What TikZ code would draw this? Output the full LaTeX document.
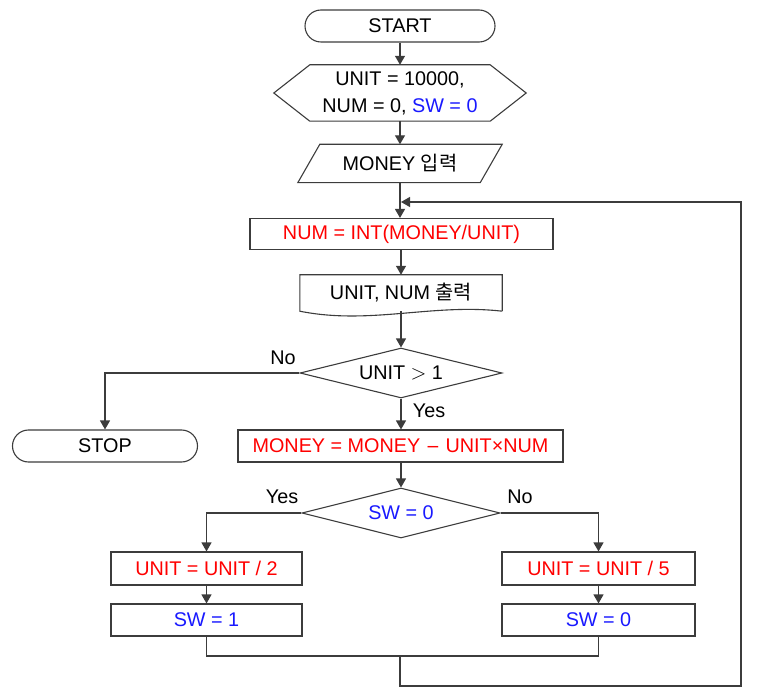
\documentclass[tikz,border=0pt]{standalone}
\usepackage{fontspec}
\setmainfont{Liberation Sans}
\newfontfamily\kr{Noto Sans CJK KR}
\usetikzlibrary{arrows.meta,shapes.geometric,shapes.misc,calc}
\definecolor{lred}{RGB}{255,0,0}
\definecolor{lblue}{RGB}{25,25,255}
\definecolor{edge}{RGB}{60,60,60}
\begin{document}
\begin{tikzpicture}[x=1pt,y=-1pt,
  every node/.style={font=\fontsize{19.8}{27}\selectfont, inner sep=0pt},
  line/.style={draw=edge, line width=1.2pt},
  arr/.style={line, -{Triangle[length=9pt,width=10pt]}},
  outl/.style={draw=edge, line width=1.1pt},
  box/.style={outl, rectangle, minimum height=32pt},
  term/.style={outl, rounded rectangle, minimum width=190pt, minimum height=32pt},
  dia/.style={outl, diamond, aspect=4, minimum height=50pt},
  lbl/.style={font=\fontsize{19.8}{22}\selectfont}
]
\useasboundingbox (0,0) rectangle (758,695);

% nodes
\node[term] (start) at (400,26) {START};
\node[minimum width=252pt, minimum height=56pt, align=center] (init) at (400,93)
  {UNIT = 10000,\\NUM = 0, \textcolor{lblue}{SW = 0}};
\draw[outl] (init.west) -- ($(init.north west)+(36,0)$) -- ($(init.north east)+(-36,0)$)
  -- (init.east) -- ($(init.south east)+(-36,0)$) -- ($(init.south west)+(36,0)$) -- cycle;
\node[minimum width=204pt, minimum height=38pt] (inp) at (400,163.5) {MONEY {\kr 입력}};
\draw[outl] ($(inp.north west)+(22,0)$) -- (inp.north east) -- ($(inp.south east)+(-22,0)$)
  -- (inp.south west) -- cycle;
\node[box, minimum width=303pt, minimum height=31pt, text=lred] (num) at (401.5,234) {NUM = INT(MONEY/UNIT)};
\node[minimum width=202pt, minimum height=36pt] (out) at (401,293) {UNIT, NUM {\kr 출력}};
\draw[outl] (out.south east) -- (out.north east) -- (out.north west) -- (out.south west)
  .. controls ($(out.south west)+(70,14)$) and ($(out.south east)+(-70,-8)$) .. (out.south east);
\node[dia, minimum width=202pt] (dec1) at (401,373) {UNIT \raisebox{0.5pt}{\(>\)} 1};
\node[term, minimum width=185pt] (stop) at (105,446) {STOP};
\node[box, minimum width=325pt, text=lred] (money) at (400.5,446) {MONEY = MONEY {\fontspec{DejaVu Sans}\fontsize{17}{22}\selectfont −} UNIT×NUM};
\node[dia, minimum width=198pt, text=lblue] (dec2) at (401,513) {SW = 0};
\node[box, minimum width=191pt, minimum height=33pt, text=lred] (u2) at (206.5,568.5) {UNIT = UNIT / 2};
\node[box, minimum width=191pt, text=lblue] (sw1) at (206.5,620) {SW = 1};
\node[box, minimum width=193pt, minimum height=33pt, text=lred] (u5) at (598.5,568.5) {UNIT = UNIT / 5};
\node[box, minimum width=193pt, text=lblue] (sw0) at (598.5,620) {SW = 0};

% labels
\node[lbl] (no1) at (283,358) {No};
\node[lbl] (yes1) at (429,411) {Yes};
\node[lbl] (yes2) at (282,497) {Yes};
\node[lbl] (no2) at (520,497) {No};

% coordinates
\coordinate (j) at (401,202);
\coordinate (jb) at (400,656);
\coordinate (rb) at (741,686);

% connectors
\draw[arr] (start.south) -- (init.north);
\draw[arr] (init.south) -- (inp.north);
\draw[arr] (inp.south) -- (num.north -| inp.south);
\draw[arr] (num.south -| out.north) -- (out.north);
\draw[arr] (out.south) -- (dec1.north);
\draw[arr] (dec1.west) -| (stop.north);
\draw[arr] (dec1.south) -- (money.north -| dec1.south);
\draw[arr] (money.south -| dec2.north) -- (dec2.north);
\draw[arr] (dec2.west) -| (u2.north);
\draw[arr] (dec2.east) -| (u5.north);
\draw[arr] (u2.south) -- (sw1.north);
\draw[arr] (u5.south) -- (sw0.north);
\draw[line] (sw1.south) |- (jb) -| (sw0.south);
\draw[arr] (jb) |- (rb) |- (j);
\end{tikzpicture}
\end{document}
